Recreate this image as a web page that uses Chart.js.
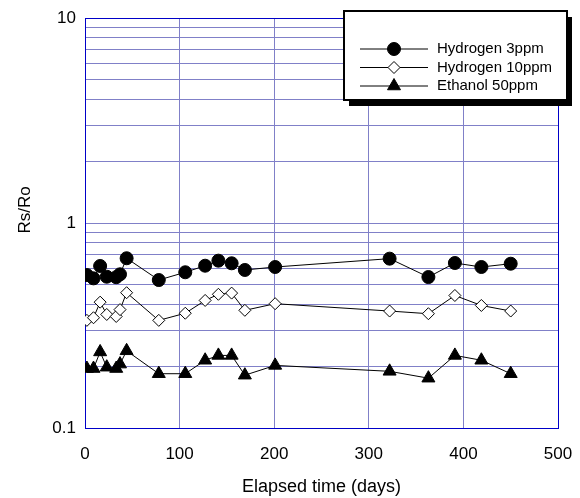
<!DOCTYPE html>
<html>
<head>
<meta charset="utf-8">
<script src="https://cdn.jsdelivr.net/npm/chart.js@4.4.1/dist/chart.umd.min.js"></script>
<style>
  html, body { margin: 0; padding: 0; background: #fff; }
  #wrap { width: 580px; height: 498px; }
</style>
</head>
<body>
<div id="wrap"><canvas id="chart"></canvas></div>
<script>
// elapsed time (days), shared by the three series
var days = [2, 9, 16, 23, 33, 37, 44, 78, 106, 127, 141, 155, 169, 201, 322, 363, 391, 419, 450];

var hydrogen3 = [0.557, 0.537, 0.617, 0.547, 0.544, 0.562, 0.673, 0.527, 0.575, 0.619,
                 0.655, 0.636, 0.590, 0.610, 0.670, 0.545, 0.638, 0.610, 0.633];
var hydrogen10 = [0.335, 0.345, 0.411, 0.358, 0.350, 0.378, 0.457, 0.335, 0.363, 0.419,
                  0.449, 0.455, 0.375, 0.404, 0.372, 0.361, 0.443, 0.396, 0.372];
var ethanol50 = [0.195, 0.195, 0.235, 0.198, 0.195, 0.205, 0.238, 0.184, 0.184, 0.214,
                 0.226, 0.226, 0.181, 0.202, 0.189, 0.175, 0.226, 0.214, 0.184];

var seriesNames = ['Hydrogen 3ppm', 'Hydrogen 10ppm', 'Ethanol 50ppm'];
var yTicks = [0.1, 0.2, 0.3, 0.4, 0.5, 0.6, 0.7, 0.8, 0.9,
              1, 2, 3, 4, 5, 6, 7, 8, 9, 10];
var yLabels = [0.1, 1, 10];
var yTitle = 'Rs/Ro';

var gridColor = '#8080c8';
var axisColor = '#0000c8';
var fontFamily = '"Liberation Sans", Arial, sans-serif';

function pts(vals) {
    return vals.map(function (v, i) { return {x: days[i], y: v}; });
}

// legend box with drop shadow, plus the rotated y title
var boxLegend = {
    id: 'boxLegend',
    afterDraw: function (chart) {
        var ctx = chart.ctx;
        var x = 344, y = 11, w = 223, h = 89;
        ctx.save();
        ctx.fillStyle = '#000';
        ctx.fillRect(x + 5, y + 6, w, h);
        ctx.fillStyle = '#fff';
        ctx.fillRect(x, y, w, h);
        ctx.lineWidth = 2;
        ctx.strokeStyle = '#000';
        ctx.strokeRect(x, y, w, h);

        chart.data.datasets.forEach(function (ds, i) {
            var ly = 49 + i * 18.5;
            ctx.beginPath();
            ctx.lineWidth = 1;
            ctx.strokeStyle = '#000';
            ctx.moveTo(360, ly);
            ctx.lineTo(428, ly);
            ctx.stroke();
            ctx.fillStyle = ds.pointBackgroundColor;
            ctx.strokeStyle = ds.pointBorderColor;
            Chart.helpers.drawPoint(ctx, {
                pointStyle: ds.pointStyle,
                radius: ds.pointRadius,
                borderWidth: ds.pointBorderWidth,
                rotation: 0
            }, 394, ly);
            ctx.fillStyle = '#000';
            ctx.font = '15px ' + fontFamily;
            ctx.textBaseline = 'middle';
            ctx.textAlign = 'left';
            ctx.fillText(ds.label, 437, ly);
        });

        ctx.translate(25, 210);
        ctx.rotate(-Math.PI / 2);
        ctx.font = '17px ' + fontFamily;
        ctx.textAlign = 'center';
        ctx.textBaseline = 'middle';
        ctx.fillText(yTitle, 0, 0);
        ctx.restore();
    }
};

var ctx = document.getElementById('chart').getContext('2d');
var chart = new Chart(ctx, {
    type: 'line',
    data: {
        datasets: [{
            label: seriesNames[0],
            data: pts(hydrogen3),
            borderColor: '#000',
            borderWidth: 1,
            pointStyle: 'circle',
            pointRadius: 6.5,
            pointBackgroundColor: '#000',
            pointBorderColor: '#000',
            pointBorderWidth: 1
        }, {
            label: seriesNames[1],
            data: pts(hydrogen10),
            borderColor: '#000',
            borderWidth: 1,
            pointStyle: 'rectRot',
            pointRadius: 6,
            pointBackgroundColor: '#fff',
            pointBorderColor: '#000',
            pointBorderWidth: 1
        }, {
            label: seriesNames[2],
            data: pts(ethanol50),
            borderColor: '#000',
            borderWidth: 1,
            pointStyle: 'triangle',
            pointRadius: 7.5,
            pointBackgroundColor: '#000',
            pointBorderColor: '#000',
            pointBorderWidth: 1
        }]
    },
    options: {
        responsive: true,
        maintainAspectRatio: false,
        animation: false,
        layout: { padding: { top: 18, right: 22, left: 0, bottom: 0 } },
        plugins: {
            legend: { display: false },
            tooltip: { enabled: false }
        },
        scales: {
            x: {
                type: 'linear',
                min: 0,
                max: 500,
                afterFit: function (s) {
                    s.height = 70;
                    s.paddingLeft = 0;
                    s.paddingRight = 0;
                },
                ticks: {
                    stepSize: 100,
                    color: '#000',
                    padding: 16,
                    font: { family: fontFamily, size: 17 }
                },
                grid: {
                    drawTicks: false,
                    color: function (c) { return c.tick && c.tick.value === 500 ? axisColor : gridColor; }
                },
                border: { color: axisColor, width: 1 },
                title: {
                    display: true,
                    text: 'Elapsed time (days)',
                    color: '#000',
                    padding: { top: 0, bottom: 0 },
                    font: { family: fontFamily, size: 18 }
                }
            },
            y: {
                type: 'logarithmic',
                min: 0.1,
                max: 10,
                afterFit: function (s) {
                    s.width = 85;
                    s.paddingTop = 0;
                    s.paddingBottom = 0;
                },
                afterBuildTicks: function (s) {
                    s.ticks = yTicks.map(function (v) { return {value: v}; });
                },
                ticks: {
                    autoSkip: false,
                    color: '#000',
                    padding: 9,
                    font: { family: fontFamily, size: 17 },
                    callback: function (v) { return yLabels.indexOf(v) >= 0 ? String(v) : ''; }
                },
                grid: {
                    drawTicks: false,
                    color: function (c) { return c.tick && c.tick.value === 10 ? axisColor : gridColor; }
                },
                border: { color: axisColor, width: 1 }
            }
        }
    },
    plugins: [boxLegend]
});
</script>
</body>
</html>
